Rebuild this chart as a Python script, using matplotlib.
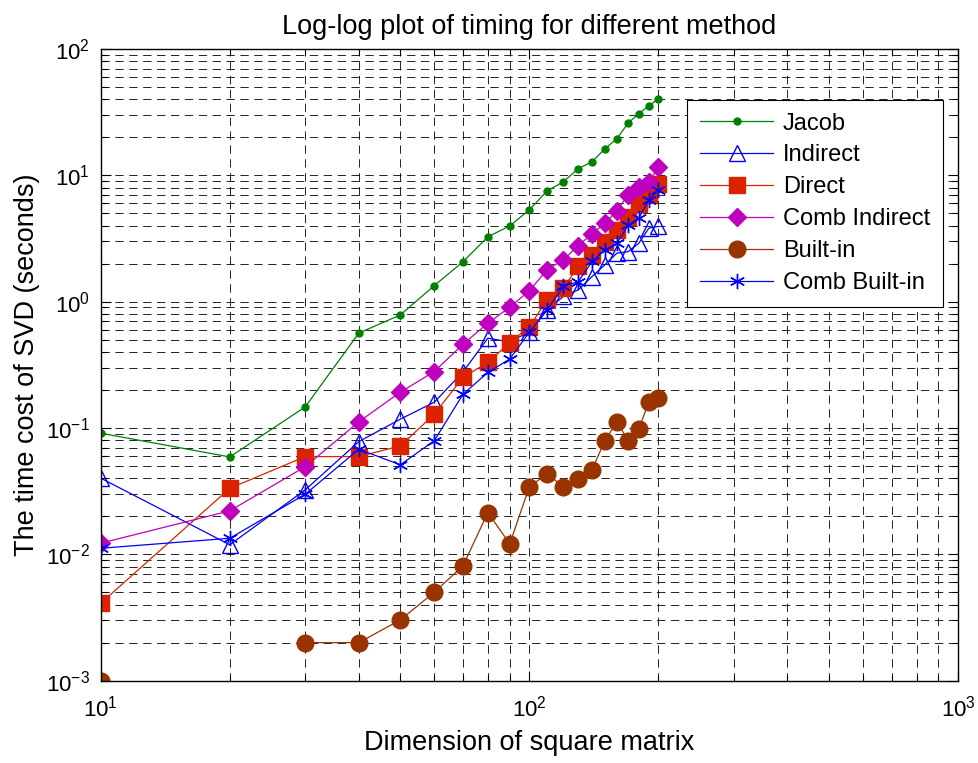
import numpy as np
import matplotlib
matplotlib.use('Agg')
import matplotlib.pyplot as plt
from matplotlib.ticker import LogLocator, NullFormatter

plt.rcParams['font.family'] = ['Liberation Sans', 'DejaVu Sans']
plt.rcParams['mathtext.fontset'] = 'custom'
plt.rcParams['mathtext.rm'] = 'Liberation Sans'
plt.rcParams['lines.scale_dashes'] = False

# matrix sizes
dims = [10, 20, 30, 40, 50, 60, 70, 80, 90, 100,
        110, 120, 130, 140, 150, 160, 170, 180, 190, 200]

# timings in seconds
t_jacob = [0.091, 0.059, 0.147, 0.564, 0.785, 1.34, 2.07, 3.26, 3.98, 5.33,
           7.54, 8.88, 11.3, 12.8, 16.2, 19.5, 26.0, 30.7, 35.5, 40.3]
t_indirect = [0.0401, 0.0119, 0.0324, 0.078, 0.1175, 0.16, 0.278, 0.514, 0.48, 0.579,
              0.861, 1.10, 1.24, 1.58, 1.96, 2.42, 2.49, 2.90, 3.82, 3.94]
t_direct = [0.0041, 0.0333, 0.0594, 0.0594, 0.0721, 0.1285, 0.252, 0.330, 0.474, 0.635,
            1.03, 1.28, 1.90, 2.32, 2.96, 3.70, 4.72, 5.94, 7.01, 8.57]
t_combind = [0.01225, 0.0221, 0.0494, 0.112, 0.192, 0.280, 0.460, 0.676, 0.904, 1.22,
             1.79, 2.14, 2.78, 3.44, 4.18, 5.24, 7.01, 8.15, 8.93, 11.6]
t_builtin = [0.001, np.nan, 0.002, 0.002, 0.00303, 0.00501, 0.0081, 0.0214, 0.0121, 0.0344,
             0.0433, 0.0344, 0.0394, 0.0466, 0.0794, 0.112, 0.0794, 0.0977, 0.162, 0.172]
t_combbuilt = [0.01117, 0.0134, 0.0299, 0.0679, 0.0511, 0.0794, 0.185, 0.275, 0.352, 0.573,
               0.861, 1.32, 1.44, 2.08, 2.57, 2.90, 4.01, 4.58, 6.40, 7.67]

fig = plt.figure(figsize=(9.79, 7.63), dpi=100)
ax = fig.add_axes([0.1029, 0.1079, 0.8757, 0.8279])

lw = 0.9
ax.loglog(dims, t_jacob, '-o', color='#008000', lw=lw, ms=5, label='Jacob')
ax.loglog(dims, t_indirect, '-^', color='#0000FF', lw=lw, ms=12, mfc='none', mew=1.0, label='Indirect')
ax.loglog(dims, t_direct, '-s', color='#DD2200', lw=lw, ms=11, label='Direct')
ax.loglog(dims, t_combind, '-D', color='#BF00BF', lw=lw, ms=9.5, label='Comb Indirect')
ax.loglog(dims, t_builtin, '-o', color='#993300', lw=lw, ms=12, label='Built-in')
ax.loglog(dims, t_combbuilt, '-', color='#0000FF', marker=(6, 2, 0), lw=lw, ms=11, mew=1.0, label='Comb Built-in')

ax.set_xlim(10, 1000)
ax.set_ylim(1e-3, 1e2)
ax.xaxis.set_major_locator(LogLocator(base=10, numticks=10))
ax.yaxis.set_major_locator(LogLocator(base=10, numticks=10))
ax.xaxis.set_minor_locator(LogLocator(base=10, subs=np.arange(2, 10), numticks=20))
ax.yaxis.set_minor_locator(LogLocator(base=10, subs=np.arange(2, 10), numticks=20))
ax.xaxis.set_minor_formatter(NullFormatter())
ax.yaxis.set_minor_formatter(NullFormatter())

ax.grid(True, which='both', color='black', linestyle=(0, (6, 4)), linewidth=0.6)
ax.set_axisbelow(True)
ax.tick_params(which='both', direction='in', top=True, right=True, width=0.8)
ax.tick_params(which='major', length=7, labelsize=16, pad=8)
ax.tick_params(axis='x', which='major', pad=11)
ax.tick_params(which='minor', length=4)
for s in ax.spines.values():
    s.set_linewidth(1.0)

ax.set_title('Log-log plot of timing for different method', fontsize=19.5, pad=11)
ax.set_xlabel('Dimension of square matrix', fontsize=19.5, labelpad=6)
ax.set_ylabel('The time cost of SVD (seconds)', fontsize=19.5, labelpad=4)

leg = ax.legend(loc='upper right', bbox_to_anchor=(0.9825, 0.920), fontsize=17,
                handlelength=3.1, handletextpad=0.4, labelspacing=0.42, borderpad=0.55,
                borderaxespad=0, fancybox=False, framealpha=1, edgecolor='black')
leg.get_frame().set_linewidth(0.8)

fig.savefig('out.png', dpi=100)
